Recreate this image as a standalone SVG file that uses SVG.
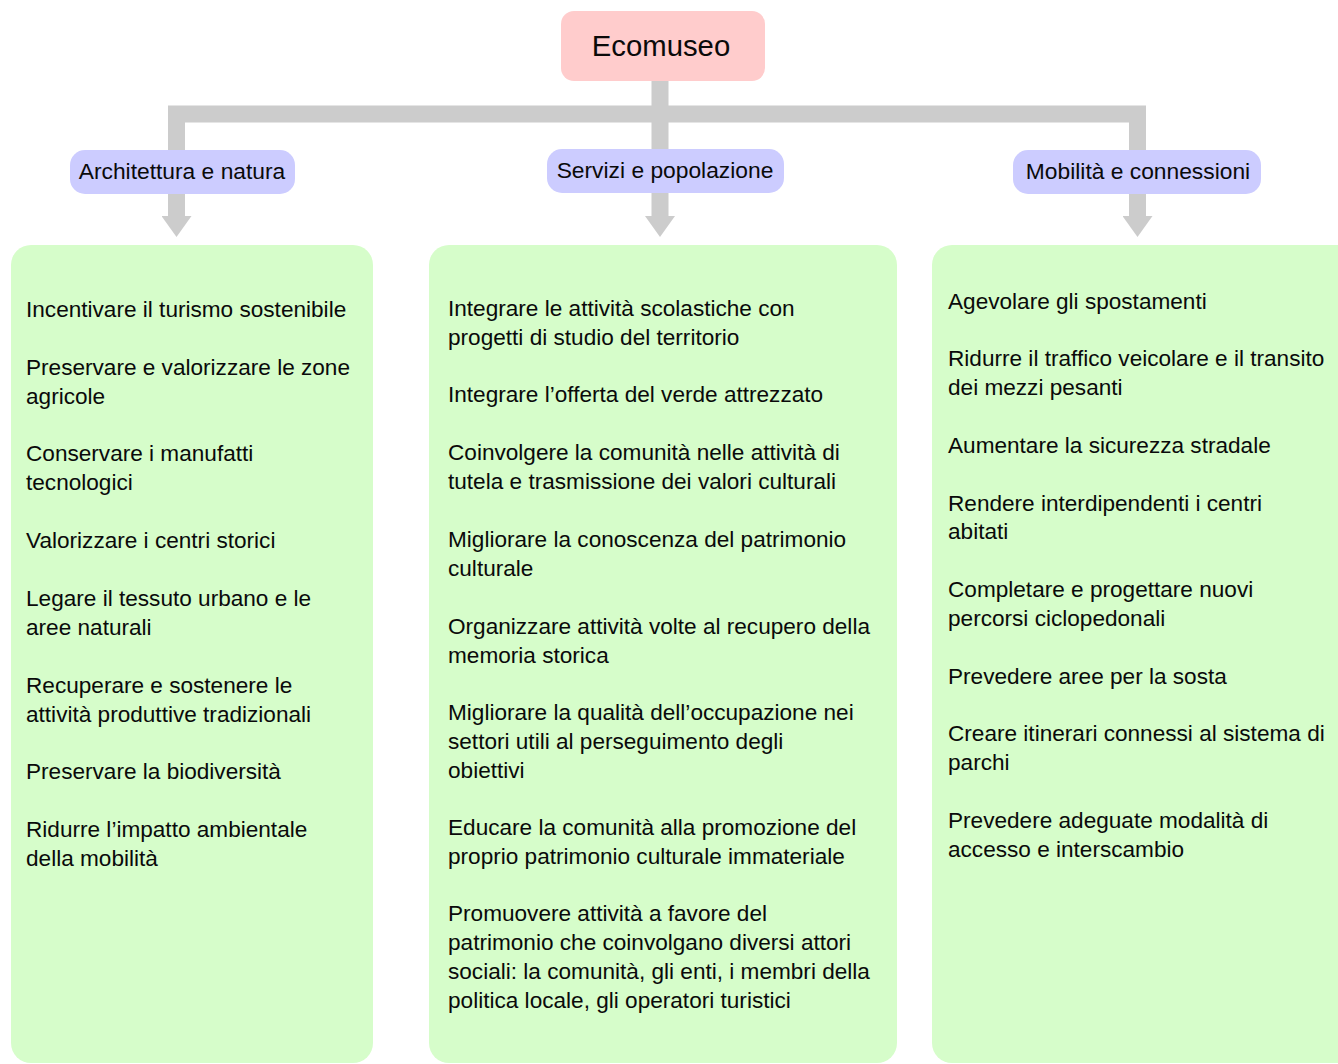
<svg xmlns="http://www.w3.org/2000/svg" width="1338" height="1064" viewBox="0 0 1338 1064">
  <style>
    .root { fill: #ffcccc; }
    .cat { fill: #ccccff; }
    .panel { fill: #d6fdca; }
    .conn { fill: none; stroke: #cccccc; stroke-width: 17; stroke-linejoin: miter; }
    text { font-family: "Liberation Sans", Arial, sans-serif; fill: #0a0a0a; }
    .title { font-size: 29.3px; text-anchor: middle; }
    .label { font-size: 22.8px; text-anchor: middle; }
    .item { font-size: 22.6px; }
  </style>
  <defs>
    <marker id="arrow" markerUnits="userSpaceOnUse" markerWidth="21" markerHeight="30" refX="1" refY="15" orient="auto">
      <path d="M0,0 L21,15 L0,30 Z" fill="#cccccc"/>
    </marker>
  </defs>

  <!-- connectors -->
  <g id="connectors">
    <path class="conn" d="M176.5,217 V114 H1137.5 V217" marker-end="url(#arrow)"/>
    <path class="conn" d="M660,81 V217" marker-end="url(#arrow)"/>
    <path class="conn" d="M176.5,120 V217" marker-end="url(#arrow)"/>
  </g>

  <!-- root -->
  <g id="ecomuseo">
    <rect class="root" x="561" y="11" width="204" height="70" rx="13"/>
    <text class="title" x="661" y="56">Ecomuseo</text>
  </g>

  <!-- categories -->
  <g id="architettura">
    <rect class="cat" x="70" y="150" width="225" height="44" rx="15"/>
    <text class="label" x="182" y="179">Architettura e natura</text>
  </g>
  <g id="servizi">
    <rect class="cat" x="547" y="149" width="237" height="44" rx="15"/>
    <text class="label" x="665" y="178">Servizi e popolazione</text>
  </g>
  <g id="mobilita">
    <rect class="cat" x="1013" y="150" width="248" height="44" rx="15"/>
    <text class="label" x="1138" y="179">Mobilità e connessioni</text>
  </g>

  <!-- objectives: architecture and nature -->
  <g id="obiettivi-architettura">
    <rect class="panel" x="11" y="245" width="362" height="818" rx="20"/>
    <text class="item" x="26">
      <tspan x="26" y="317">Incentivare il turismo sostenibile</tspan>
      <tspan x="26" y="375">Preservare e valorizzare le zone</tspan>
      <tspan x="26" y="404">agricole</tspan>
      <tspan x="26" y="461">Conservare i manufatti</tspan>
      <tspan x="26" y="490">tecnologici</tspan>
      <tspan x="26" y="548">Valorizzare i centri storici</tspan>
      <tspan x="26" y="606">Legare il tessuto urbano e le</tspan>
      <tspan x="26" y="635">aree naturali</tspan>
      <tspan x="26" y="693">Recuperare e sostenere le</tspan>
      <tspan x="26" y="722">attività produttive tradizionali</tspan>
      <tspan x="26" y="779">Preservare la biodiversità</tspan>
      <tspan x="26" y="837">Ridurre l’impatto ambientale</tspan>
      <tspan x="26" y="866">della mobilità</tspan>
    </text>
  </g>

  <!-- objectives: services and population -->
  <g id="obiettivi-servizi">
    <rect class="panel" x="429" y="245" width="468" height="818" rx="20"/>
    <text class="item" x="448">
      <tspan x="448" y="316">Integrare le attività scolastiche con</tspan>
      <tspan x="448" y="345">progetti di studio del territorio</tspan>
      <tspan x="448" y="402">Integrare l’offerta del verde attrezzato</tspan>
      <tspan x="448" y="460">Coinvolgere la comunità nelle attività di</tspan>
      <tspan x="448" y="489">tutela e trasmissione dei valori culturali</tspan>
      <tspan x="448" y="547">Migliorare la conoscenza del patrimonio</tspan>
      <tspan x="448" y="576">culturale</tspan>
      <tspan x="448" y="634">Organizzare attività volte al recupero della</tspan>
      <tspan x="448" y="663">memoria storica</tspan>
      <tspan x="448" y="720">Migliorare la qualità dell’occupazione nei</tspan>
      <tspan x="448" y="749">settori utili al perseguimento degli</tspan>
      <tspan x="448" y="778">obiettivi</tspan>
      <tspan x="448" y="835">Educare la comunità alla promozione del</tspan>
      <tspan x="448" y="864">proprio patrimonio culturale immateriale</tspan>
      <tspan x="448" y="921">Promuovere attività a favore del</tspan>
      <tspan x="448" y="950">patrimonio che coinvolgano diversi attori</tspan>
      <tspan x="448" y="979">sociali: la comunità, gli enti, i membri della</tspan>
      <tspan x="448" y="1008">politica locale, gli operatori turistici</tspan>
    </text>
  </g>

  <!-- objectives: mobility and connections -->
  <g id="obiettivi-mobilita">
    <rect class="panel" x="932" y="245" width="430" height="818" rx="20"/>
    <text class="item" x="948">
      <tspan x="948" y="309">Agevolare gli spostamenti</tspan>
      <tspan x="948" y="366">Ridurre il traffico veicolare e il transito</tspan>
      <tspan x="948" y="395">dei mezzi pesanti</tspan>
      <tspan x="948" y="453">Aumentare la sicurezza stradale</tspan>
      <tspan x="948" y="511">Rendere interdipendenti i centri</tspan>
      <tspan x="948" y="539">abitati</tspan>
      <tspan x="948" y="597">Completare  e progettare nuovi</tspan>
      <tspan x="948" y="626">percorsi ciclopedonali</tspan>
      <tspan x="948" y="684">Prevedere aree per la sosta</tspan>
      <tspan x="948" y="741">Creare itinerari connessi al sistema di</tspan>
      <tspan x="948" y="770">parchi</tspan>
      <tspan x="948" y="828">Prevedere adeguate modalità di</tspan>
      <tspan x="948" y="857">accesso e interscambio</tspan>
    </text>
  </g>
</svg>
